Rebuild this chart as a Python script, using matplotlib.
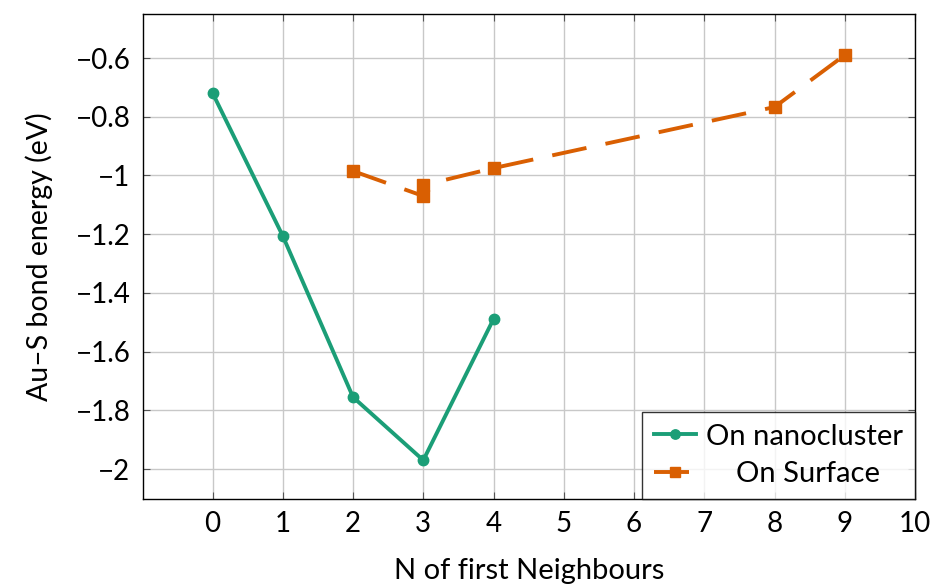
import matplotlib
matplotlib.use("Agg")
import matplotlib.pyplot as plt

plt.rcParams['font.family'] = ['Lato', 'DejaVu Sans']

nano_x = [0, 1, 2, 3, 4]
nano_y = [-0.719, -1.206, -1.755, -1.970, -1.489]
surf_x = [2, 3, 3, 4, 8, 9]
surf_y = [-0.985, -1.070, -1.033, -0.975, -0.767, -0.590]
xticks = list(range(0, 11))
yticks = [-2.0, -1.8, -1.6, -1.4, -1.2, -1.0, -0.8, -0.6]
ytick_labels = ['\u22122', '\u22121.8', '\u22121.6', '\u22121.4', '\u22121.2', '\u22121', '\u22120.8', '\u22120.6']

fig = plt.figure(figsize=(9.34, 5.86), dpi=100)
ax = fig.add_axes([143/934, 1-499/586, (915-143)/934, (499-14)/586])

green = '#1b9e77'
orange = '#d95f02'
ax.plot(nano_x, nano_y, color=green, lw=2.8, marker='o', ms=7.5, label='On nanocluster', zorder=3)
ax.plot(surf_x, surf_y, color=orange, lw=2.8, marker='s', ms=8, dashes=(9, 5),
        label='    On Surface', zorder=3)

ax.set_xlim(-0.99, 10)
ax.set_ylim(-2.102, -0.45)
ax.set_xticks(xticks)
ax.set_xticklabels([str(t) for t in xticks])
ax.set_yticks(yticks)
ax.set_yticklabels(ytick_labels)
ax.grid(True, color='#c8c8c8', lw=1)
ax.set_axisbelow(True)
ax.tick_params(direction='in', length=5, labelsize=20, pad=9, top=True, right=True, color='#555555')
for s in ax.spines.values():
    s.set_linewidth(1.0)
ax.set_xlabel('N of first Neighbours', fontsize=21, labelpad=15)
ax.set_ylabel('Au\u2013S bond energy (eV)', fontsize=20.5, labelpad=16)

leg = ax.legend(loc='lower right', fontsize=21, frameon=True, fancybox=False,
                edgecolor='black', borderaxespad=0, handlelength=1.45, handletextpad=0.35,
                borderpad=0.4, labelspacing=0.4, markerscale=0.9)
leg.get_frame().set_linewidth(1.0)

fig.savefig('out.png', dpi=100)
